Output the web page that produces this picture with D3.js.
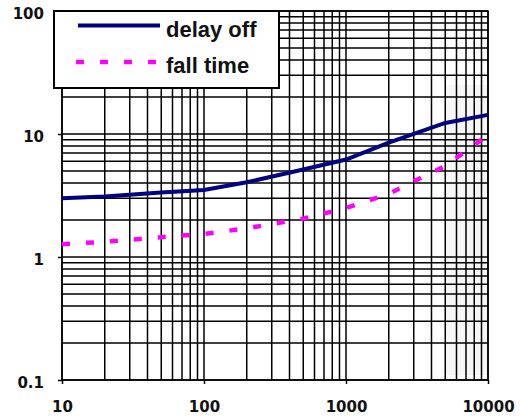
<!DOCTYPE html>
<html>
<head>
<meta charset="utf-8">
<script src="https://cdn.jsdelivr.net/npm/d3@7"></script>
<style>
  body { margin: 0; background: #fff; }
  .tick-label { font-family: "DejaVu Sans", Verdana, sans-serif; font-weight: bold; font-size: 15px; fill: #111; }
  .legend-text { font-family: "Liberation Sans", Arial, sans-serif; font-weight: bold; font-size: 22px; fill: #111; }
</style>
</head>
<body>
<div id="chart"></div>
<script>

// Data
var xValues = [10, 20, 50, 100, 200, 500, 1000, 2000, 5000, 10000];
var delayOff = [3.0, 3.1, 3.35, 3.5, 4.05, 5.15, 6.2, 8.5, 12.3, 14.3];
var fallTime = [1.27, 1.33, 1.45, 1.54, 1.71, 2.05, 2.5, 3.27, 5.5, 9.8];

var seriesNames = ["delay off", "fall time"];

var xMajor = [10, 100, 1000, 10000];
var xTickLabels = ["10", "100", "1000", "10000"];
var yMajor = [0.1, 1, 10, 100];
var yTickLabels = ["0.1", "1", "10", "100"];

// Set up svg
var margin = {top: 11, right: 33, bottom: 39, left: 62};
var width = 521 - margin.left - margin.right,
    height = 419 - margin.top - margin.bottom;

var svg = d3.select("#chart").append("svg")
    .attr("width", width + margin.left + margin.right)
    .attr("height", height + margin.top + margin.bottom);

var g = svg.append("g")
    .attr("transform", "translate(" + margin.left + "," + margin.top + ")");

var x = d3.scaleLog().domain([10, 10000]).range([0, width]);
var y = d3.scaleLog().domain([0.1, 100]).range([height, 0]);

// faint shaded band on the right side of the original
g.append("rect")
    .attr("x", x(5000))
    .attr("y", y(25))
    .attr("width", x(10000) - x(5000))
    .attr("height", y(0.11) - y(25))
    .attr("fill", "#f6f6f6");

// grid: every minor and major value
g.selectAll(".vgrid")
    .data(x.ticks())
    .enter().append("line")
    .attr("class", "vgrid")
    .attr("x1", function(d) { return x(d); })
    .attr("x2", function(d) { return x(d); })
    .attr("y1", 0)
    .attr("y2", height)
    .attr("stroke", "#000")
    .attr("stroke-width", 1.5);

g.selectAll(".hgrid")
    .data(y.ticks())
    .enter().append("line")
    .attr("class", "hgrid")
    .attr("x1", 0)
    .attr("x2", width)
    .attr("y1", function(d) { return y(d); })
    .attr("y2", function(d) { return y(d); })
    .attr("stroke", "#000")
    .attr("stroke-width", 1.5);

// axes (major ticks only, outward)
var xAxis = d3.axisBottom(x)
    .tickValues(xMajor)
    .tickSize(4)
    .tickFormat(function(d, i) { return xTickLabels[i]; });

var yAxis = d3.axisLeft(y)
    .tickValues(yMajor)
    .tickSize(4)
    .tickFormat(function(d, i) { return yTickLabels[i]; });

var gx = g.append("g")
    .attr("transform", "translate(0," + height + ")")
    .call(xAxis);
gx.select(".domain").remove();
gx.selectAll(".tick line").attr("stroke", "#000").attr("stroke-width", 1.5);
gx.selectAll(".tick text")
    .attr("class", "tick-label")
    .attr("y", 31.5)
    .attr("dy", null);

var gy = g.append("g").call(yAxis);
gy.select(".domain").remove();
gy.selectAll(".tick line").attr("stroke", "#000").attr("stroke-width", 1.5);
gy.selectAll(".tick text")
    .attr("class", "tick-label")
    .attr("x", -18)
    .attr("dy", 7.5);

// frame
g.append("rect")
    .attr("width", width)
    .attr("height", height)
    .attr("fill", "none")
    .attr("stroke", "#000")
    .attr("stroke-width", 1.5);

// lines
var line = d3.line()
    .x(function(d) { return x(d[0]); })
    .y(function(d) { return y(d[1]); });

g.append("path")
    .datum(xValues.map(function(v, i) { return [v, delayOff[i]]; }))
    .attr("d", line)
    .attr("fill", "none")
    .attr("stroke", "#000080")
    .attr("stroke-width", 4);

g.append("path")
    .datum(xValues.map(function(v, i) { return [v, fallTime[i]]; }))
    .attr("d", line)
    .attr("fill", "none")
    .attr("stroke", "#ff00ff")
    .attr("stroke-width", 4.5)
    .attr("stroke-dasharray", "8,16");

// Legend
var legend = svg.append("g").attr("transform", "translate(54,11)");

legend.append("rect")
    .attr("width", 225)
    .attr("height", 77)
    .attr("fill", "#fff")
    .attr("stroke", "#000")
    .attr("stroke-width", 2);

legend.append("line")
    .attr("x1", 24).attr("x2", 106)
    .attr("y1", 14.5).attr("y2", 14.5)
    .attr("stroke", "#000080")
    .attr("stroke-width", 4);

legend.append("line")
    .attr("x1", 22).attr("x2", 104)
    .attr("y1", 51).attr("y2", 51)
    .attr("stroke", "#ff00ff")
    .attr("stroke-width", 4.5)
    .attr("stroke-dasharray", "8,16");

legend.selectAll(".legend-text")
    .data(seriesNames)
    .enter().append("text")
    .attr("class", "legend-text")
    .attr("x", 112)
    .attr("y", function(d, i) { return 25.5 + i * 36.5; })
    .text(function(d) { return d; });

</script>
</body>
</html>
